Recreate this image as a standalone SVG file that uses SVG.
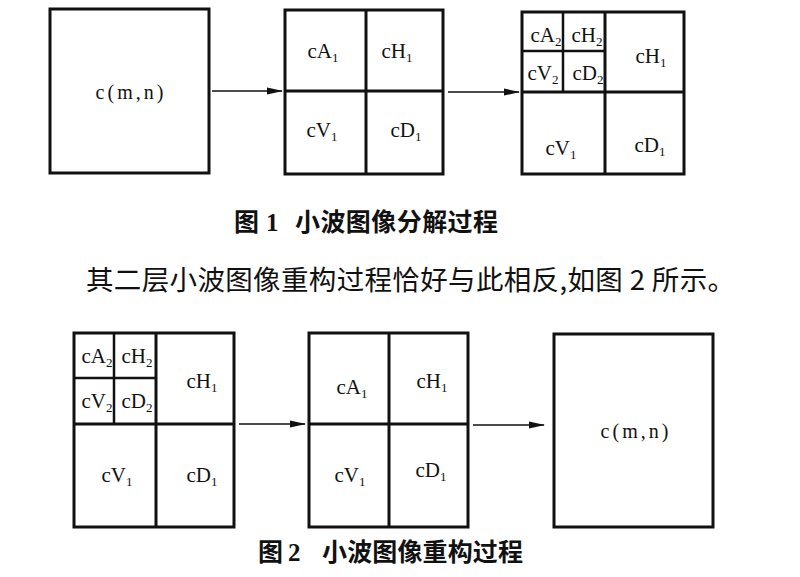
<svg xmlns="http://www.w3.org/2000/svg" width="800" height="577" viewBox="0 0 800 577">
<defs>
<marker id="ah" markerWidth="16" markerHeight="8" refX="15" refY="4" orient="auto" markerUnits="userSpaceOnUse">
<path d="M0,0.5 L16,4 L0,7.5 Z" fill="#111"/>
</marker>
</defs>
<style>
.box{fill:#fff;stroke:#111;stroke-width:3}
.div{stroke:#111;stroke-width:3;fill:none}
.sdiv{stroke:#111;stroke-width:2.5;fill:none}
.lbl{font-family:"Liberation Serif","Times New Roman",serif;font-size:21px;fill:#111;text-anchor:middle}
.sub{font-size:13px}
.cmn{font-family:"Liberation Serif","Times New Roman",serif;font-size:20px;fill:#111;text-anchor:middle;letter-spacing:3px}
.arr{stroke:#111;stroke-width:1.6;fill:none;marker-end:url(#ah)}
.cap{font-family:"Noto Sans CJK SC","Noto Sans CJK TC",sans-serif;font-size:25px;font-weight:bold;fill:#111}
.capn{font-family:"Liberation Serif","Times New Roman",serif;font-size:25px;font-weight:bold;fill:#111}
.body{font-family:"Noto Sans CJK SC","Noto Sans CJK TC",sans-serif;font-size:27.5px;fill:#111}
</style>

<g id="fig1-original">
<rect class="box" x="50" y="9" width="159" height="164"/>
<text class="cmn" x="131" y="99">c(m,n)</text>
</g>

<g id="fig1-level1">
<rect class="box" x="285" y="10" width="158" height="164"/>
<line class="div" x1="366" y1="10" x2="366" y2="174"/>
<line class="div" x1="285" y1="91" x2="443" y2="91"/>
<text class="lbl" x="323" y="58">cA<tspan class="sub" dy="4">1</tspan></text>
<text class="lbl" x="397" y="58">cH<tspan class="sub" dy="4">1</tspan></text>
<text class="lbl" x="322" y="137">cV<tspan class="sub" dy="4">1</tspan></text>
<text class="lbl" x="406" y="137">cD<tspan class="sub" dy="4">1</tspan></text>
</g>

<g id="fig1-level2">
<rect class="box" x="522" y="12" width="162" height="162"/>
<line class="div" x1="605" y1="12" x2="605" y2="174"/>
<line class="div" x1="522" y1="92" x2="684" y2="92"/>
<line class="sdiv" x1="563" y1="12" x2="563" y2="92"/>
<line class="sdiv" x1="522" y1="51" x2="605" y2="51"/>
<text class="lbl" x="546" y="42">cA<tspan class="sub" dy="4">2</tspan></text>
<text class="lbl" x="587" y="42">cH<tspan class="sub" dy="4">2</tspan></text>
<text class="lbl" x="543" y="80">cV<tspan class="sub" dy="4">2</tspan></text>
<text class="lbl" x="588" y="80">cD<tspan class="sub" dy="4">2</tspan></text>
<text class="lbl" x="651" y="63">cH<tspan class="sub" dy="4">1</tspan></text>
<text class="lbl" x="561" y="155">cV<tspan class="sub" dy="4">1</tspan></text>
<text class="lbl" x="650" y="152">cD<tspan class="sub" dy="4">1</tspan></text>
</g>

<g id="fig2-level2">
<rect class="box" x="74" y="333" width="160" height="194"/>
<line class="div" x1="156" y1="333" x2="156" y2="527"/>
<line class="div" x1="74" y1="424" x2="234" y2="424"/>
<line class="sdiv" x1="114" y1="333" x2="114" y2="424"/>
<line class="sdiv" x1="74" y1="378" x2="156" y2="378"/>
<text class="lbl" x="97" y="363">cA<tspan class="sub" dy="4">2</tspan></text>
<text class="lbl" x="137" y="363">cH<tspan class="sub" dy="4">2</tspan></text>
<text class="lbl" x="97" y="408">cV<tspan class="sub" dy="4">2</tspan></text>
<text class="lbl" x="137" y="408">cD<tspan class="sub" dy="4">2</tspan></text>
<text class="lbl" x="202" y="388">cH<tspan class="sub" dy="4">1</tspan></text>
<text class="lbl" x="117" y="482">cV<tspan class="sub" dy="4">1</tspan></text>
<text class="lbl" x="202" y="482">cD<tspan class="sub" dy="4">1</tspan></text>
</g>

<g id="fig2-level1">
<rect class="box" x="309" y="333" width="159" height="194"/>
<line class="div" x1="389" y1="333" x2="389" y2="527"/>
<line class="div" x1="309" y1="424" x2="468" y2="424"/>
<text class="lbl" x="352" y="394">cA<tspan class="sub" dy="4">1</tspan></text>
<text class="lbl" x="432" y="388">cH<tspan class="sub" dy="4">1</tspan></text>
<text class="lbl" x="350" y="482">cV<tspan class="sub" dy="4">1</tspan></text>
<text class="lbl" x="431" y="477">cD<tspan class="sub" dy="4">1</tspan></text>
</g>

<g id="fig2-original">
<rect class="box" x="554" y="334" width="159" height="193"/>
<text class="cmn" x="636" y="438">c(m,n)</text>
</g>

<g id="connectors">
<line class="arr" x1="212" y1="91" x2="282" y2="91"/>
<line class="arr" x1="448" y1="92" x2="519" y2="92"/>
<line class="arr" x1="239" y1="424" x2="305" y2="424"/>
<line class="arr" x1="473" y1="425" x2="544" y2="425"/>
</g>

<g id="captions">
<text class="cap" x="234" y="231">图</text>
<text class="capn" x="266" y="231">1</text>
<text class="cap" x="295" y="231" textLength="203" lengthAdjust="spacing">小波图像分解过程</text>
<text class="body" x="86" y="290" textLength="649" lengthAdjust="spacing">其二层小波图像重构过程恰好与此相反,如图 2 所示。</text>
<text class="cap" x="258" y="561">图</text>
<text class="capn" x="288" y="561">2</text>
<text class="cap" x="322" y="561" textLength="201" lengthAdjust="spacing">小波图像重构过程</text>
</g>
</svg>
